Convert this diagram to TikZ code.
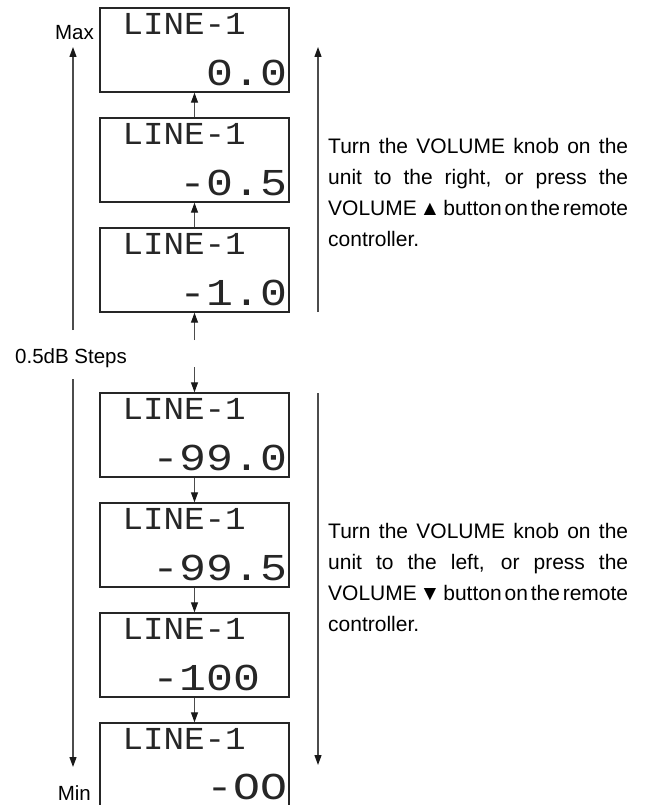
\documentclass[tikz,border=0pt]{standalone}
\usepackage{fontspec}
\setmainfont{Liberation Sans}
\newfontfamily\lcdtopfont[FakeStretch=1.07]{Liberation Mono}
\newfontfamily\lcdvalfont[FakeStretch=1.18]{Liberation Mono}
\usetikzlibrary{arrows.meta}
\newcommand\notespacing{\hyphenpenalty=10000\relax\spaceskip=0.27em plus 0.6em minus 0.16em\relax}

\begin{document}
\begin{tikzpicture}[x=1pt, y=-1pt,
  lcd/.style={draw=black!85, line width=1.4pt, minimum width=189pt, minimum height=84pt, inner sep=0pt},
  lcdtop/.style={anchor=base west, inner sep=0pt, text=black!85, font=\lcdtopfont\fontsize{32}{32}\selectfont},
  lcdval/.style={anchor=base east, inner sep=0pt, text=black!85, font=\lcdvalfont\fontsize{38}{38}\selectfont},
  stepline/.style={draw=black!70, line width=1.2pt, -{Triangle[length=10pt,width=7pt,color=black!90]}},
  caption/.style={inner sep=0pt, font=\fontsize{20.5}{24}\selectfont},
  note/.style={anchor=north west, inner sep=0pt, text width=300pt, align=justify, font=\fontsize{21}{31}\selectfont}]
\useasboundingbox (0,0) rectangle (651,805);
\clip (0,0) rectangle (651,805);
% displays, upper group
\node[lcd] (d1) at (194.5,50) {};
\node[lcd] (d2) at (194.5,160) {};
\node[lcd] (d3) at (194.5,270) {};
% displays, lower group
\node[lcd] (d4) at (194.5,435) {};
\node[lcd] (d5) at (194.5,545) {};
\node[lcd] (d6) at (194.5,655) {};
\node[lcd] (d7) at (194.5,765) {};
% display texts
\node[lcdtop] (d1top) at ([xshift=23pt, yshift=-27pt]d1.north west) {LINE-1};
\node[lcdval] (d1val) at ([xshift=-2pt, yshift=-78pt]d1.north east) {0.0};
\node[lcdtop] (d2top) at ([xshift=23pt, yshift=-27pt]d2.north west) {LINE-1};
\node[lcdval] (d2val) at ([xshift=-2pt, yshift=-78pt]d2.north east) {-0.5};
\node[lcdtop] (d3top) at ([xshift=23pt, yshift=-27pt]d3.north west) {LINE-1};
\node[lcdval] (d3val) at ([xshift=-2pt, yshift=-78pt]d3.north east) {-1.0};
\node[lcdtop] (d4top) at ([xshift=23pt, yshift=-27pt]d4.north west) {LINE-1};
\node[lcdval] (d4val) at ([xshift=-2pt, yshift=-78pt]d4.north east) {-99.0};
\node[lcdtop] (d5top) at ([xshift=23pt, yshift=-27pt]d5.north west) {LINE-1};
\node[lcdval] (d5val) at ([xshift=-2pt, yshift=-78pt]d5.north east) {-99.5};
\node[lcdtop] (d6top) at ([xshift=23pt, yshift=-27pt]d6.north west) {LINE-1};
\node[lcdval] (d6val) at ([xshift=-2pt, yshift=-78pt]d6.north east) {-100\phantom{0}};
\node[lcdtop] (d7top) at ([xshift=23pt, yshift=-27pt]d7.north west) {LINE-1};
\node[lcdval] (d7val) at ([xshift=-2pt, yshift=-77pt]d7.north east) {-OO};
% step arrows between displays
\coordinate (upfrom) at (194.5,340);
\coordinate (downfrom) at (194.5,367);
\draw[stepline] (upfrom) -- (d3.south);
\draw[stepline] (d3.north) -- (d2.south);
\draw[stepline] (d2.north) -- (d1.south);
\draw[stepline] (downfrom) -- (d4.north);
\draw[stepline] (d4.south) -- (d5.north);
\draw[stepline] (d5.south) -- (d6.north);
\draw[stepline] (d6.south) -- (d7.north);
% range arrows
\coordinate (maxfrom) at (73,330);
\coordinate (maxtip) at (73,47);
\coordinate (minfrom) at (73,379);
\coordinate (mintip) at (73,767);
\coordinate (upperfrom) at (318,312);
\coordinate (uppertip) at (318,47);
\coordinate (lowerfrom) at (318,393);
\coordinate (lowertip) at (318,765);
\draw[stepline] (maxfrom) -- (maxtip);
\draw[stepline] (minfrom) -- (mintip);
\draw[stepline] (upperfrom) -- (uppertip);
\draw[stepline] (lowerfrom) -- (lowertip);
% captions
\node[caption, anchor=base east] (max) at (94,40) {Max};
\node[caption, anchor=base west] (steps) at (15,363) {0.5dB Steps};
\node[caption, anchor=base east] (min) at (91,800) {Min};
\node[note] (upnote) at (328,137.7) {\notespacing Turn the VOLUME knob on the\linebreak unit to the right, or press the\linebreak VOLUME ▲ button on the remote\linebreak controller.};
\node[note] (downnote) at (328,522.7) {\notespacing Turn the VOLUME knob on the\linebreak unit to the left, or press the\linebreak VOLUME ▼ button on the remote\linebreak controller.};
\end{tikzpicture}
\end{document}
